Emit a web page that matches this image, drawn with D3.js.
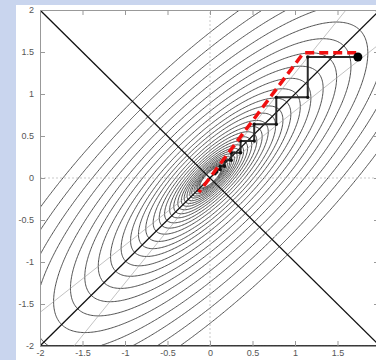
<!DOCTYPE html>
<html>
<head>
<meta charset="utf-8">
<script src="https://cdn.jsdelivr.net/npm/d3@7"></script>
<style>
  html, body { margin: 0; padding: 0; background: #c9d5ee; }
  svg { display: block; }
  .tick text { font-family: "Liberation Sans", Arial, sans-serif; font-size: 9px; fill: #555; }
</style>
</head>
<body>
<div id="chart"></div>
<script>
// quadratic f(x,y) = x^2 + y^2 - 2*c*x*y, ellipses along y = x
const coupling = 0.8;

// contour levels (outermost first)
const contourLevels = [3, 2.4, 1.92, 1.54, 1.23, 0.98, 0.79, 0.63, 0.5, 0.4, 0.32,
  0.26, 0.21, 0.165, 0.132, 0.106, 0.084, 0.068, 0.054, 0.043, 0.035, 0.028,
  0.022, 0.018, 0.014, 0.011, 0.009, 0.007, 0.0058];

// coordinate descent path (black zigzag)
const zigzagX = [1.74, 1.15, 1.15, 0.78, 0.78, 0.52, 0.52, 0.36, 0.36, 0.25, 0.25, 0.17, 0.17, 0.12, 0.12, 0.08, 0.08, 0.06, 0.06];
const zigzagY = [1.44, 1.44, 0.96, 0.96, 0.64, 0.64, 0.44, 0.44, 0.30, 0.30, 0.21, 0.21, 0.14, 0.14, 0.10, 0.10, 0.07, 0.07, 0.05];

// red dashed path
const redX = [1.72, 1.10, -0.13];
const redY = [1.49, 1.49, -0.17];

const xTicks = [-2, -1.5, -1, -0.5, 0, 0.5, 1, 1.5, 2];
const yTicks = [-2, -1.5, -1, -0.5, 0, 0.5, 1, 1.5, 2];

const width = 376, height = 360;
const plot = { left: 40, right: 380, top: 10, bottom: 346 };

const svg = d3.select('#chart').append('svg')
  .attr('width', width)
  .attr('height', height);

svg.append('rect').attr('width', width).attr('height', height).attr('fill', '#c9d5ee');
svg.append('rect').attr('x', 16).attr('y', 5).attr('width', width - 16).attr('height', height - 5).attr('fill', '#fff');

const x = d3.scaleLinear().domain([-2, 2]).range([plot.left, plot.right]);
const y = d3.scaleLinear().domain([-2, 2]).range([plot.bottom, plot.top]);

svg.append('clipPath').attr('id', 'clip')
  .append('rect')
  .attr('x', plot.left).attr('y', plot.top)
  .attr('width', plot.right - plot.left).attr('height', plot.bottom - plot.top);

const g = svg.append('g').attr('clip-path', 'url(#clip)');

// contour grid
const n = 240;
const values = new Array(n * n);
for (let j = 0; j < n; j++) {
  for (let i = 0; i < n; i++) {
    const px = -2 + 4 * i / (n - 1);
    const py = -2 + 4 * j / (n - 1);
    values[i + j * n] = px * px + py * py - 2 * coupling * px * py;
  }
}
const contours = d3.contours().size([n, n]).thresholds(contourLevels)(values);
const toPlot = d3.geoTransform({
  point: function (i, j) {
    this.stream.point(x(-2 + 4 * i / (n - 1)), y(-2 + 4 * j / (n - 1)));
  }
});
g.selectAll('.contour')
  .data(contours)
  .enter()
  .append('path')
  .attr('class', 'contour')
  .attr('d', d3.geoPath(toPlot))
  .attr('fill', 'none')
  .attr('stroke', '#3c3c3c')
  .attr('stroke-width', 0.9);

// dashed zero lines
g.append('line').attr('x1', x(0)).attr('x2', x(0)).attr('y1', y(-2)).attr('y2', y(2))
  .attr('stroke', '#bbb').attr('stroke-width', 0.8).attr('stroke-dasharray', '2,2');
g.append('line').attr('x1', x(-2)).attr('x2', x(2)).attr('y1', y(0)).attr('y2', y(0))
  .attr('stroke', '#bbb').attr('stroke-width', 0.8).attr('stroke-dasharray', '2,2');

// thin lines where one partial derivative vanishes
[coupling, 1 / coupling].forEach(s => {
  g.append('line')
    .attr('x1', x(-2)).attr('y1', y(-2 * s))
    .attr('x2', x(2)).attr('y2', y(2 * s))
    .attr('stroke', '#999').attr('stroke-width', 0.6);
});

// principal axes
g.append('line').attr('x1', x(-2)).attr('y1', y(-2)).attr('x2', x(2)).attr('y2', y(2))
  .attr('stroke', '#111').attr('stroke-width', 1.3);
g.append('line').attr('x1', x(-2)).attr('y1', y(2)).attr('x2', x(2)).attr('y2', y(-2))
  .attr('stroke', '#111').attr('stroke-width', 1.3);

// axes frame (the label at x = 2 falls outside the window)
const fmt = d => String(d);
svg.append('g').attr('transform', `translate(${plot.left},0)`)
  .call(d3.axisLeft(y).tickValues(yTicks).tickSize(-5).tickPadding(6).tickFormat(fmt));
svg.append('g').attr('transform', `translate(0,${plot.bottom})`)
  .call(d3.axisBottom(x).tickValues(xTicks).tickSize(-5).tickPadding(4)
    .tickFormat(d => (x(d) > width - 6 ? '' : String(d))));
svg.append('g').attr('transform', `translate(0,${plot.top})`)
  .call(d3.axisTop(x).tickValues(xTicks).tickSize(-5).tickFormat(''));
svg.append('g').attr('transform', `translate(${plot.right},0)`)
  .call(d3.axisRight(y).tickValues(yTicks).tickSize(-6).tickFormat(''));
svg.selectAll('.domain').attr('stroke', '#999');
svg.selectAll('.tick line').attr('stroke', '#999');

// coordinate descent zigzag
const zigzag = zigzagX.map((v, i) => [v, zigzagY[i]]);
const line = d3.line().x(d => x(d[0])).y(d => y(d[1]));
g.append('path')
  .attr('d', line(zigzag))
  .attr('fill', 'none')
  .attr('stroke', '#2a2a2a')
  .attr('stroke-width', 2);
g.selectAll('.corner')
  .data(zigzag)
  .enter()
  .append('circle')
  .attr('class', 'corner')
  .attr('cx', d => x(d[0]))
  .attr('cy', d => y(d[1]))
  .attr('r', 1.7)
  .attr('fill', '#111');

// red dashed path
const red = redX.map((v, i) => [v, redY[i]]);
g.append('path')
  .attr('d', line(red))
  .attr('fill', 'none')
  .attr('stroke', '#f01010')
  .attr('stroke-width', 3.5)
  .attr('stroke-linejoin', 'round')
  .attr('stroke-dasharray', '9,5');

// start point
g.append('circle')
  .attr('cx', x(zigzag[0][0]))
  .attr('cy', y(zigzag[0][1]))
  .attr('r', 4.5)
  .attr('fill', '#000');
</script>
</body>
</html>
